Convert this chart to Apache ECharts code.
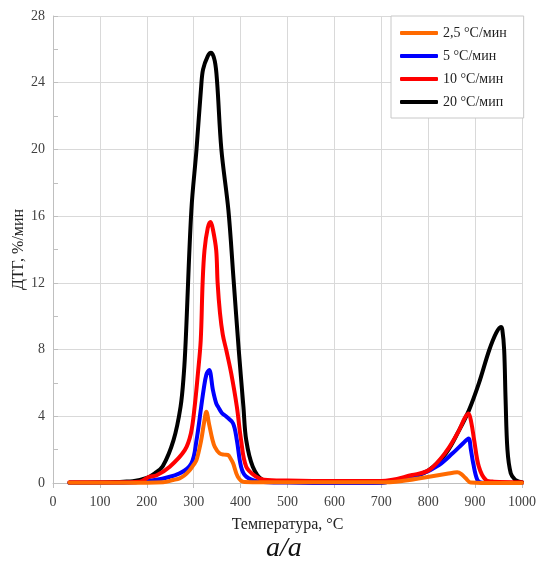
<!DOCTYPE html>
<html>
<head>
<meta charset="utf-8">
<script src="https://cdn.jsdelivr.net/npm/echarts@6/dist/echarts.min.js"></script>
<style>
html,body{margin:0;padding:0;background:#fff;}
#chart{width:537px;height:563px;}
</style>
</head>
<body>
<div id="chart"></div>
<script>
// Data
var seriesNames = ['2,5 °C/мин', '5 °C/мин', '10 °C/мин', '20 °C/мип'];

var tOrange = [35, 150, 235, 256, 270, 280, 291, 300, 306, 316, 322, 327, 333, 340, 345, 355, 365, 373, 378, 384, 394, 408, 450, 600, 700, 731, 802, 840, 862, 872, 880, 891, 950, 1000];
var vOrange = [0.02, 0.02, 0.05, 0.18, 0.28, 0.45, 0.75, 1.1, 1.38, 2.57, 3.6, 4.27, 3.5, 2.6, 2.17, 1.78, 1.7, 1.68, 1.5, 1.18, 0.38, 0.06, 0.05, 0.05, 0.05, 0.08, 0.38, 0.55, 0.64, 0.5, 0.28, 0.03, 0.0, 0.0];

var tBlue = [35, 150, 217, 270, 295, 306, 316, 321, 327, 333, 341, 348, 352, 360, 370, 384, 392, 401, 412, 440, 500, 600, 700, 731, 788, 823, 852, 875, 886, 891, 896, 905, 915, 1000];
var vBlue = [0.02, 0.02, 0.18, 0.58, 1.17, 2.57, 4.57, 5.57, 6.5, 6.77, 5.57, 4.77, 4.57, 4.2, 3.97, 3.57, 2.57, 0.98, 0.38, 0.08, 0.03, 0.0, 0.02, 0.18, 0.58, 1.08, 1.78, 2.4, 2.67, 2.0, 1.18, 0.18, 0.02, 0.0];

var tRed = [35, 100, 164, 185, 206, 220, 249, 281, 294, 302, 309, 315, 319, 323, 330, 336, 341, 348, 351, 356, 362, 370, 380, 392, 401, 412, 433, 450, 500, 600, 700, 766, 802, 838, 866, 878, 886, 892, 898, 908, 923, 940, 1000];
var vRed = [0.05, 0.05, 0.05, 0.08, 0.38, 0.45, 0.98, 1.97, 2.97, 4.57, 6.57, 8.56, 12.0, 13.95, 15.3, 15.65, 15.2, 13.95, 12.0, 10.2, 8.9, 7.9, 6.57, 4.57, 2.57, 0.98, 0.38, 0.2, 0.15, 0.12, 0.12, 0.48, 0.78, 1.87, 3.17, 3.9, 4.17, 3.6, 2.57, 0.98, 0.18, 0.08, 0.05];

var tBlack = [35, 100, 150, 170, 200, 217, 234, 257, 272, 279, 283, 295, 306, 316, 320, 330, 337, 345, 350, 359, 374, 385, 396, 406, 412, 426, 447, 470, 500, 600, 696, 730, 767, 802, 838, 866, 887, 908, 930, 945, 955, 958, 962, 965, 969, 976, 985, 994, 1000];
var vBlack = [0.02, 0.03, 0.08, 0.1, 0.3, 0.58, 1.0, 2.57, 4.57, 6.57, 8.56, 16.35, 20.0, 23.8, 24.8, 25.6, 25.8, 25.3, 24.0, 20.0, 16.35, 12.2, 8.0, 4.57, 2.57, 0.98, 0.18, 0.08, 0.06, 0.04, 0.03, 0.15, 0.38, 0.78, 1.78, 3.17, 4.37, 5.97, 7.96, 9.0, 9.36, 9.2, 7.96, 5.0, 1.98, 0.58, 0.2, 0.08, 0.05];

var xTicks = [0, 1000, 100];   // min, max, interval
var yTicks = [0, 28, 4];

function pairs(t, v) { return t.map(function (x, i) { return [x, v[i]]; }); }

var serif = '"Liberation Serif", "Times New Roman", serif';
var chart = echarts.init(document.getElementById('chart'), null, {renderer: 'canvas'});

function lineSeries(name, t, v, color, z) {
  return {
    name: name, type: 'line', data: pairs(t, v),
    showSymbol: false, symbol: 'none', smooth: 0.35, z: z,
    lineStyle: {color: color, width: 4, cap: 'round', join: 'round'},
    itemStyle: {color: color},
    emphasis: {disabled: true}
  };
}

chart.setOption({
  animation: false,
  backgroundColor: '#fff',
  grid: {left: 53, right: 15, top: 16, bottom: 80, containLabel: false, outerBoundsMode: 'none'},
  legend: {
    orient: 'vertical', left: 391, top: 16,
    padding: [9, 17, 8, 9], itemGap: 7,
    itemWidth: 38, itemHeight: 4, icon: 'roundRect',
    backgroundColor: '#fff', borderColor: '#c8c8c8', borderWidth: 1,
    textStyle: {fontFamily: serif, fontSize: 14, color: '#222', lineHeight: 16},
    data: seriesNames
  },
  xAxis: {
    type: 'value', min: xTicks[0], max: xTicks[1], interval: xTicks[2],
    name: 'Температура, °C', nameLocation: 'middle', nameGap: 34, nameMoveOverlap: false,
    nameTextStyle: {fontFamily: serif, fontSize: 16, color: '#222'},
    axisLine: {show: true, onZero: false, lineStyle: {color: '#bfbfbf', width: 1}},
    axisTick: {show: true, length: 5, lineStyle: {color: '#bfbfbf'}},
    axisLabel: {fontFamily: serif, fontSize: 14, color: '#404040', margin: 12,
      formatter: function (v) { return String(v); }},
    splitLine: {show: true, lineStyle: {color: '#d9d9d9', width: 1}}
  },
  yAxis: {
    type: 'value', min: yTicks[0], max: yTicks[1], interval: yTicks[2],
    name: 'ДТГ, %/мин', nameLocation: 'middle', nameGap: 26, nameRotate: 90, nameMoveOverlap: false,
    nameTextStyle: {fontFamily: serif, fontSize: 16, color: '#222'},
    axisLine: {show: true, lineStyle: {color: '#bfbfbf', width: 1}},
    axisTick: {show: true, inside: true, length: 5, lineStyle: {color: '#bfbfbf'}},
    minorTick: {show: true, splitNumber: 2, length: 5, lineStyle: {color: '#bfbfbf'}},
    axisLabel: {fontFamily: serif, fontSize: 14, color: '#404040', margin: 8,
      formatter: function (v) { return String(v); }},
    splitLine: {show: true, lineStyle: {color: '#d9d9d9', width: 1}}
  },
  graphic: [{
    type: 'text', left: 266, top: 535,
    style: {text: 'а/а', font: 'italic 28px ' + serif, fill: '#111'}
  }],
  series: [
    lineSeries(seriesNames[3], tBlack, vBlack, '#000000', 2),
    lineSeries(seriesNames[1], tBlue, vBlue, '#0000ff', 3),
    lineSeries(seriesNames[2], tRed, vRed, '#ff0000', 4),
    lineSeries(seriesNames[0], tOrange, vOrange, '#ff6a00', 5)
  ]
});
</script>
</body>
</html>
